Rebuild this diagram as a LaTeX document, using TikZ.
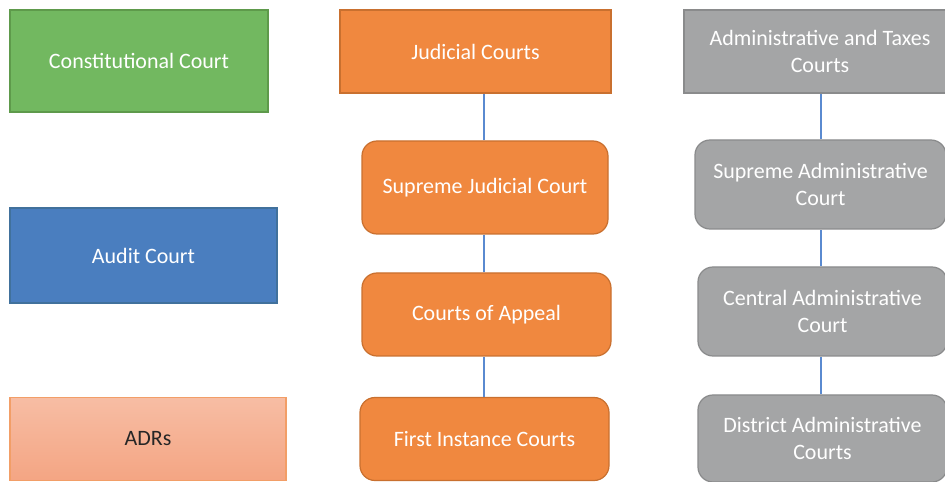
\documentclass[tikz,border=0pt]{standalone}
\usepackage{fontspec}
\setmainfont{Carlito}
\usepackage{xcolor}
\usepackage{tikz}
\usetikzlibrary{calc}
\definecolor{CTGreen}   {HTML}{72B860}
\definecolor{CTGreenDk} {HTML}{5E9A4B}
\definecolor{CTBlue}    {HTML}{4A7EBF}
\definecolor{CTBlueDk}  {HTML}{41719C}
\definecolor{CTOrange}  {HTML}{F0883F}
\definecolor{CTOrangeDk}{HTML}{C9702F}
\definecolor{CTSalmonLt}{HTML}{F7BDA4}
\definecolor{CTSalmon}  {HTML}{F4A583}
\definecolor{CTSalmonDk}{HTML}{F29E67}
\definecolor{CTGray}    {HTML}{A4A5A6}
\definecolor{CTGrayDk}  {HTML}{8A8B8C}
\definecolor{CTLink}    {HTML}{5A8AD0}
\definecolor{CTCharcoal}{HTML}{262626}

\begin{document}
\begin{tikzpicture}[
    court/.style={font=\fontsize{12.5}{15.5}\selectfont,text=white,align=center,
                  line width=0.7pt,inner sep=2pt},
    topbox/.style={court,minimum width=#1,minimum height=1.66cm},
    subbox/.style={court,rounded corners=0.3cm,minimum height=1.66cm},
    link/.style={draw=CTLink,line width=0.8pt}]
    \useasboundingbox (0,0) rectangle (18.9,9.64);
    % Left column
    \node[topbox=5.16cm,minimum height=2.04cm,fill=CTGreen,draw=CTGreenDk] (const) at (2.78,8.42) {Constitutional Court};
    \node[topbox=5.34cm,minimum height=1.90cm,fill=CTBlue,draw=CTBlueDk]   (audit) at (2.87,4.53) {Audit Court};
    \node[topbox=5.52cm,top color=CTSalmonLt,bottom color=CTSalmon,draw=CTSalmonDk,text=CTCharcoal] (adr) at (2.96,0.86) {ADRs};
    % Judicial courts
    \node[topbox=5.42cm,fill=CTOrange,draw=CTOrangeDk] (jud) at (9.51,8.61) {Judicial Courts};
    \node[subbox,minimum width=4.92cm,minimum height=1.86cm,fill=CTOrange,draw=CTOrangeDk] (sjc) at (9.70,5.89) {Supreme Judicial Court};
    \node[subbox,minimum width=4.98cm,fill=CTOrange,draw=CTOrangeDk] (coa) at (9.73,3.35) {Courts of Appeal};
    \node[subbox,minimum width=4.98cm,fill=CTOrange,draw=CTOrangeDk] (fic) at (9.69,0.86) {First Instance Courts};
    % Administrative and taxes courts (right edge runs off the page)
    \node[topbox=5.44cm,fill=CTGray,draw=CTGrayDk] (adm) at (16.40,8.61) {Administrative and Taxes\\Courts};
    \node[subbox,minimum width=5.02cm,minimum height=1.78cm,fill=CTGray,draw=CTGrayDk] (sac) at (16.41,5.95) {Supreme Administrative\\Court};
    \node[subbox,minimum width=4.98cm,minimum height=1.78cm,fill=CTGray,draw=CTGrayDk] (cac) at (16.45,3.41) {Central Administrative\\Court};
    \node[subbox,minimum width=4.98cm,minimum height=1.74cm,fill=CTGray,draw=CTGrayDk] (dac) at (16.45,0.87) {District Administrative\\Courts};
    % Links
    \coordinate (jx) at (9.68,0);
    \coordinate (ax) at (16.42,0);
    \draw[link] (sjc.north -| jx) -- (jud.south -| jx);
    \draw[link] (coa.north -| jx) -- (sjc.south -| jx);
    \draw[link] (fic.north -| jx) -- (coa.south -| jx);
    \draw[link] (sac.north -| ax) -- (adm.south -| ax);
    \draw[link] (cac.north -| ax) -- (sac.south -| ax);
    \draw[link] (dac.north -| ax) -- (cac.south -| ax);
\end{tikzpicture}
\end{document}
